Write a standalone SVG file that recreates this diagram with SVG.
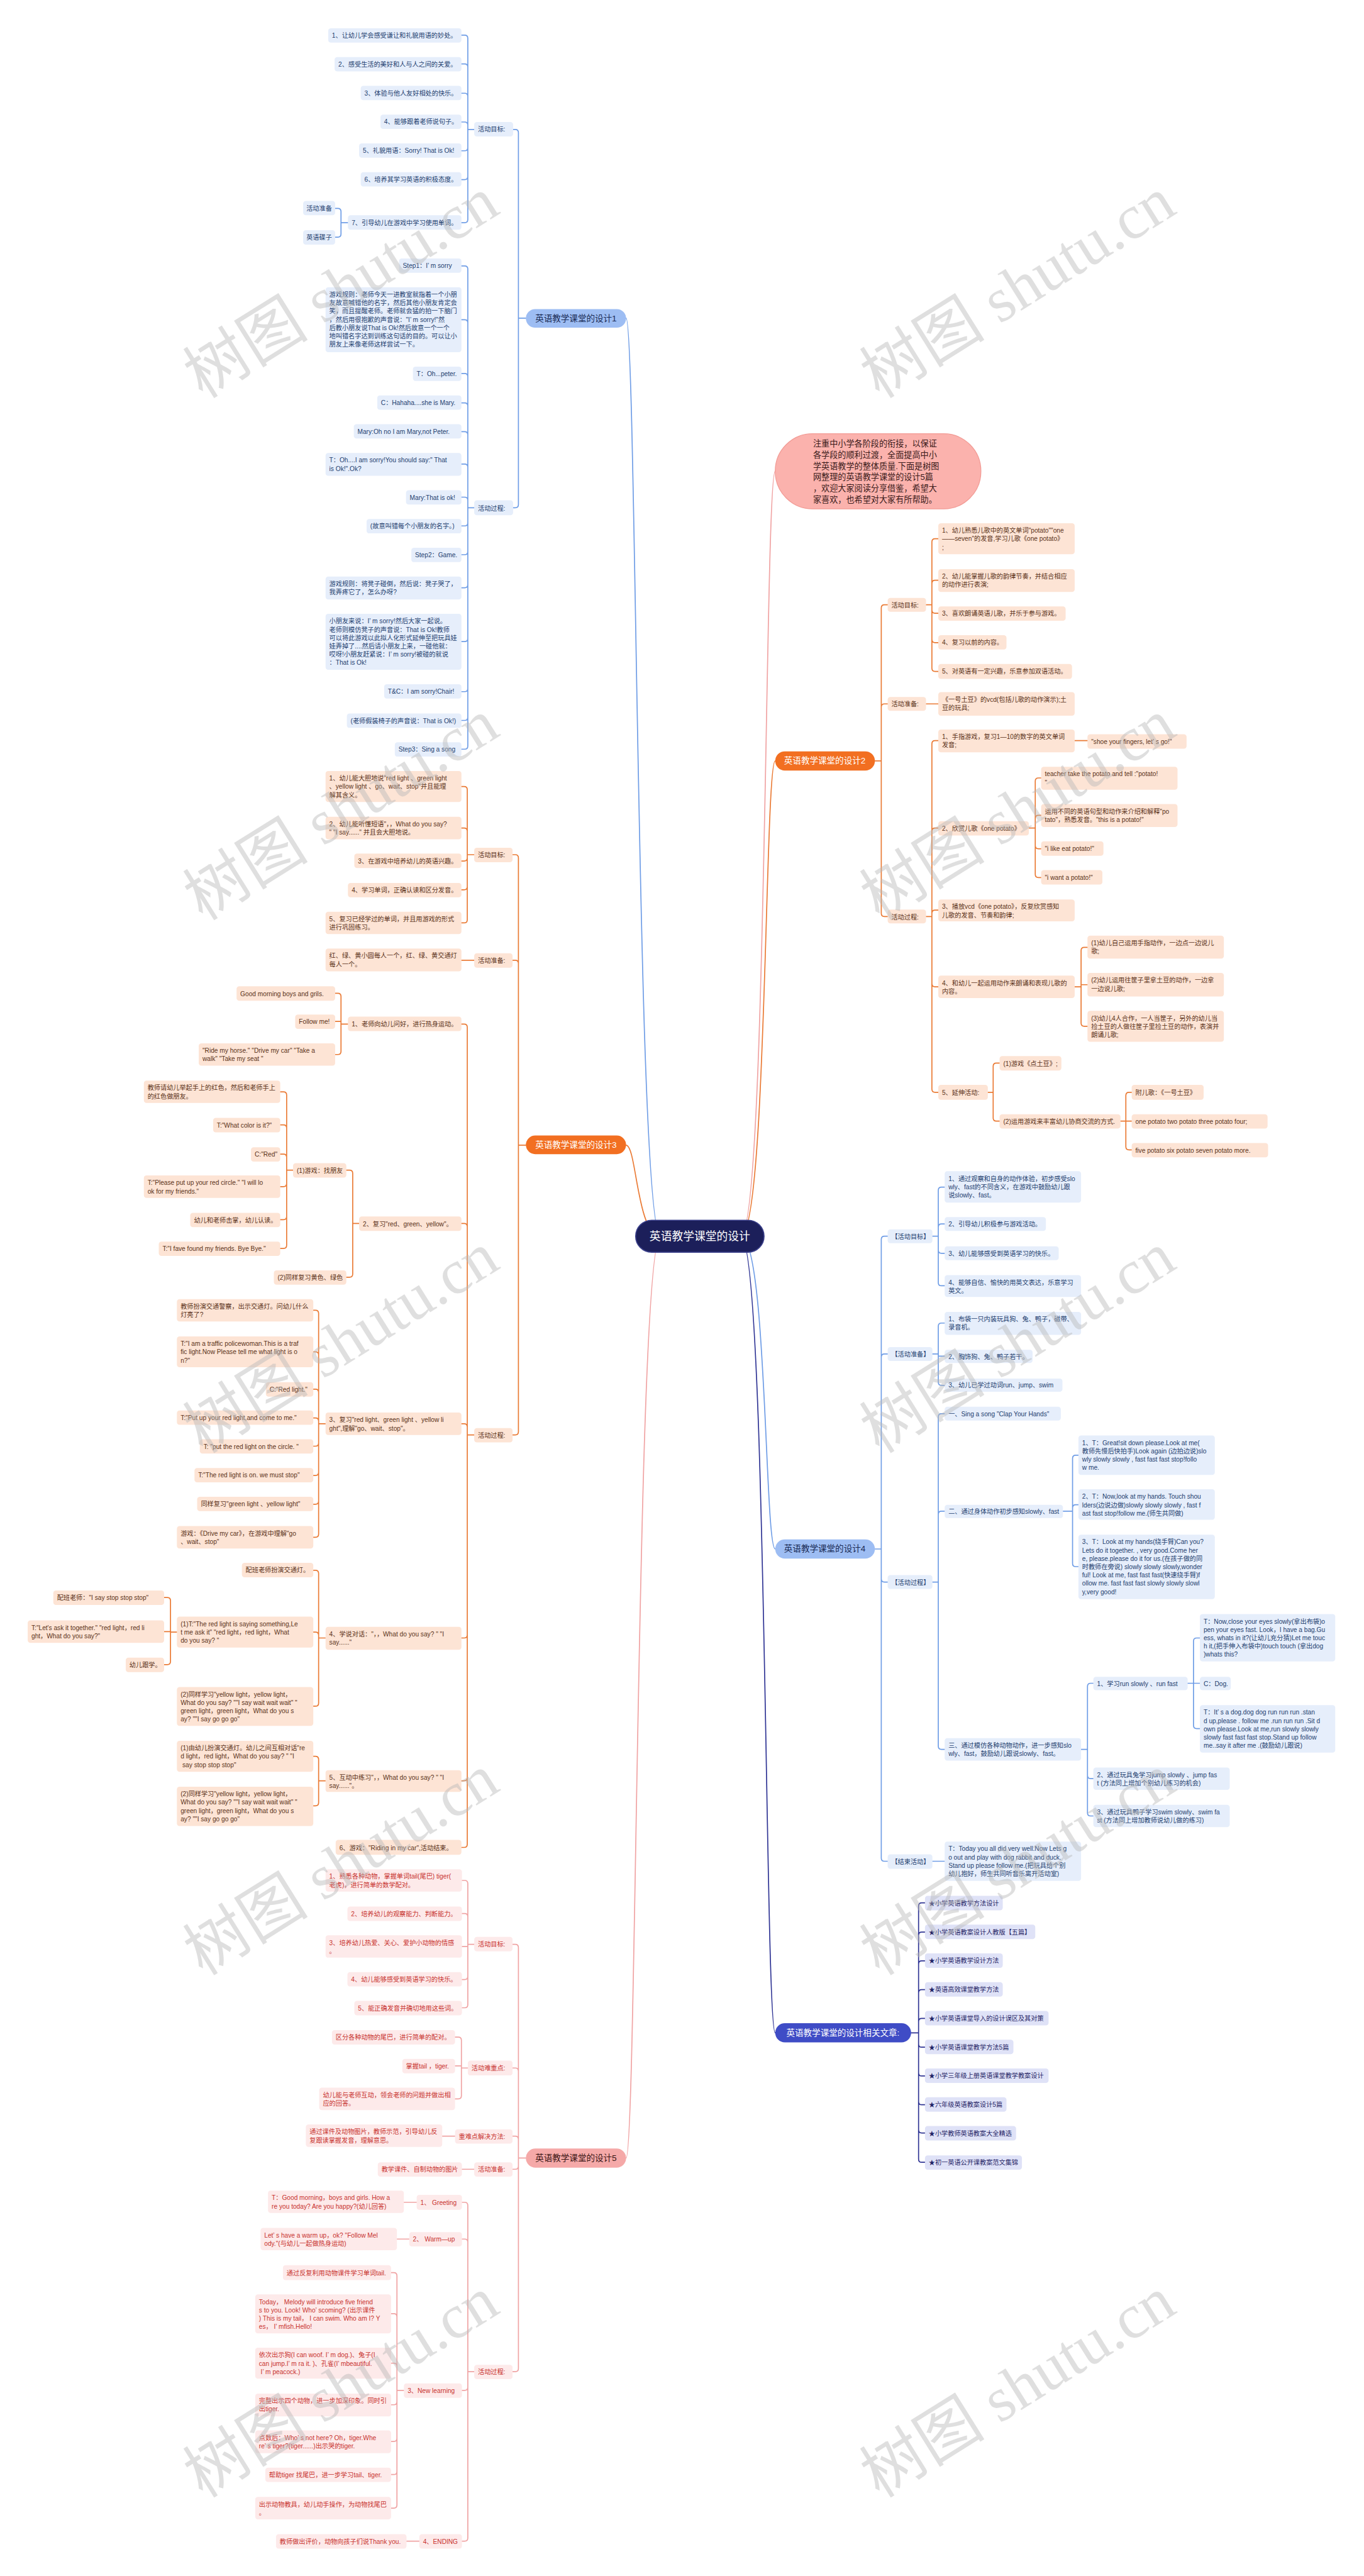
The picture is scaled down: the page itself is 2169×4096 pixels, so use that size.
<svg xmlns="http://www.w3.org/2000/svg" width="2169" height="4096" viewBox="0 0 2169 4096">
<style>
text{font-family:"Liberation Sans","Noto Sans CJK SC",sans-serif;font-size:12px}
.bl rect{fill:#e6eefb}.bl text{fill:#23406f}
.or rect{fill:#fde4d5}.or text{fill:#5b3218}
.pk rect{fill:#fdeaea}.pk text{fill:#c8322e}
.in rect{fill:#dfe2f7}.in text{fill:#1f2466}
.pill text{font-size:16px;text-anchor:middle}
.pb rect{fill:#9dbdf3}.pb text{fill:#1a2b55}
.po rect{fill:#f26f21}.po text{fill:#ffffff}
.pp rect{fill:#f5a9a8}.pp text{fill:#3a1515}
.pi rect{fill:#3f4cc6}.pi text{fill:#ffffff}
.c{fill:none;stroke-width:2;stroke-linecap:round}
.cb{stroke:#6f9de6}.co{stroke:#ea7a34}.cp{stroke:#f0a3a3}.ci{stroke:#2f3494}
.wm{font-family:"Liberation Serif","Noto Sans CJK SC",serif;font-size:118px;fill:#b8b8b8;fill-opacity:.45;text-anchor:middle}
</style>
<rect width="2169" height="4096" fill="#ffffff"/>
<g transform="scale(0.84727)">
<g id="connectors">
<path class="c cb" stroke-width="2.5" d="M1240 2320C1195 2320 1195 597 1175 597"/>
<path class="c co" stroke-width="2.5" d="M1240 2320C1195 2320 1195 2149 1175 2149"/>
<path class="c cp" stroke-width="2.5" d="M1240 2320C1195 2320 1195 4050 1175 4050"/>
<path class="c cp" stroke-width="2.5" d="M1390 2320C1440 2320 1435 884 1455 884"/>
<path class="c co" stroke-width="2.5" d="M1390 2320C1440 2320 1435 1428 1455 1428"/>
<path class="c cb" stroke-width="2.5" d="M1390 2320C1440 2320 1435 2907 1455 2907"/>
<path class="c ci" stroke-width="2.5" d="M1390 2320C1440 2320 1435 3815 1455 3815"/>
<path class="c cb" d="M987 597H973M973 597V249Q973 243 967 243H963M973 597V947Q973 953 967 953H963"/>
<path class="c cb" d="M890 243H878M878 243V72Q878 66 872 66H866M878 243V126Q878 120 872 120H866M878 243V181Q878 175 872 175H866M878 243V235Q878 229 872 229H866M878 243V277Q878 283 872 283H866M878 243V331Q878 337 872 337H866M878 243V412Q878 418 872 418H866"/>
<path class="c cb" d="M653 418H640M640 418V397Q640 391 634 391H629M640 418V439Q640 445 634 445H629"/>
<path class="c cb" d="M890 953H878M878 953V505Q878 499 872 499H866M878 953V606Q878 600 872 600H866M878 953V707Q878 701 872 701H866M878 953V762Q878 756 872 756H866M878 953V816Q878 810 872 810H866M878 953V877Q878 871 872 871H866M878 953V939Q878 933 872 933H866M878 953V981Q878 987 872 987H866M878 953V1035Q878 1041 872 1041H866M878 953V1097Q878 1103 872 1103H866M878 953V1198Q878 1204 872 1204H866M878 953V1292Q878 1298 872 1298H866M878 953V1346Q878 1352 872 1352H866M878 953V1400Q878 1406 872 1406H866"/>
<path class="c co" d="M987 2149H973M973 2149V1610Q973 1604 967 1604H962M973 2149V1808Q973 1802 967 1802H962M973 2149V2687Q973 2693 967 2693H962"/>
<path class="c co" d="M890 1604H877M877 1604V1482Q877 1476 871 1476H866M877 1604V1560Q877 1554 871 1554H866M877 1604V1610Q877 1616 871 1616H866M877 1604V1664Q877 1670 871 1670H866M877 1604V1726Q877 1732 871 1732H866M890 1802H866"/>
<path class="c co" d="M890 2693H877M877 2693V1928Q877 1922 871 1922H866M877 2693V2302Q877 2296 871 2296H866M877 2693V2678Q877 2672 871 2672H866M877 2693V3068Q877 3074 871 3074H866M877 2693V3336Q877 3342 871 3342H866M877 2693V3461Q877 3467 871 3467H866"/>
<path class="c co" d="M653 1922H640M640 1922V1870Q640 1864 634 1864H629M640 1922V1917H629M640 1922V1973Q640 1979 634 1979H629"/>
<path class="c co" d="M674 2296H662M662 2296V2202Q662 2196 656 2196H650M662 2296V2391Q662 2397 656 2397H650"/>
<path class="c co" d="M550 2196H538M538 2196V2055Q538 2049 532 2049H526M538 2196V2117Q538 2111 532 2111H526M538 2196V2172Q538 2166 532 2166H526M538 2196V2221Q538 2227 532 2227H526M538 2196V2283Q538 2289 532 2289H526M538 2196V2337Q538 2343 532 2343H526"/>
<path class="c co" d="M611 2672H598M598 2672V2465Q598 2459 592 2459H588M598 2672V2543Q598 2537 592 2537H588M598 2672V2613Q598 2607 592 2607H588M598 2672V2667Q598 2661 592 2661H588M598 2672V2708Q598 2714 592 2714H588M598 2672V2763Q598 2769 592 2769H588M598 2672V2817Q598 2823 592 2823H588M598 2672V2879Q598 2885 592 2885H588"/>
<path class="c co" d="M611 3074H598M598 3074V2953Q598 2947 592 2947H588M598 3074V3069Q598 3063 592 3063H588M598 3074V3196Q598 3202 592 3202H588"/>
<path class="c co" d="M332 3063H320M320 3063V3004Q320 2998 314 2998H308M320 3063V3062H308M320 3063V3118Q320 3124 314 3124H308"/>
<path class="c co" d="M611 3342H598M598 3342V3302Q598 3296 592 3296H588M598 3342V3383Q598 3389 592 3389H588"/>
<path class="c cp" d="M987 4050H973M973 4050V3655Q973 3649 967 3649H962M973 4050V3887Q973 3881 967 3881H962M973 4050V4015Q973 4009 967 4009H962M973 4050V4065Q973 4071 967 4071H962M973 4050V4445Q973 4451 967 4451H962"/>
<path class="c cp" d="M890 3649H878M878 3649V3535Q878 3529 872 3529H867M878 3649V3597Q878 3591 872 3591H867M878 3649V3653H867M878 3649V3709Q878 3715 872 3715H867M878 3649V3762Q878 3768 872 3768H867"/>
<path class="c cp" d="M878 3881H866M866 3881V3829Q866 3823 860 3823H854M866 3881V3877H854M866 3881V3933Q866 3939 860 3939H854M854 4009H830M890 4071H867"/>
<path class="c cp" d="M890 4451H878M878 4451V4139Q878 4133 872 4133H867M878 4451V4208Q878 4202 872 4202H867M878 4451V4480Q878 4486 872 4486H867M878 4451V4763Q878 4769 872 4769H867M782 4133H758M768 4202H745M787 4769H763"/>
<path class="c cp" d="M758 4486H745M745 4486V4271Q745 4265 739 4265H734M745 4486V4348Q745 4342 739 4342H734M745 4486V4441Q745 4435 739 4435H734M745 4486V4507Q745 4513 739 4513H734M745 4486V4576Q745 4582 739 4582H734M745 4486V4638Q745 4644 739 4644H734M745 4486V4701Q745 4707 739 4707H734"/>
<path class="c co" d="M1642 1428H1654M1654 1428V1141Q1654 1135 1660 1135H1666M1654 1428V1327Q1654 1321 1660 1321H1666M1654 1428V1714Q1654 1720 1660 1720H1666"/>
<path class="c co" d="M1738 1135H1749M1749 1135V1017Q1749 1011 1755 1011H1761M1749 1135V1095Q1749 1089 1755 1089H1761M1749 1135V1145Q1749 1151 1755 1151H1761M1749 1135V1200Q1749 1206 1755 1206H1761M1749 1135V1254Q1749 1260 1755 1260H1761M1738 1321H1761"/>
<path class="c co" d="M1738 1720H1749M1749 1720V1396Q1749 1390 1755 1390H1761M1749 1720V1560Q1749 1554 1755 1554H1761M1749 1720V1714Q1749 1708 1755 1708H1761M1749 1720V1846Q1749 1852 1755 1852H1761M1749 1720V2044Q1749 2050 1755 2050H1761M2017 1390H2041"/>
<path class="c co" d="M1931 1554H1943M1943 1554V1466Q1943 1460 1949 1460H1954M1943 1554V1536Q1943 1530 1949 1530H1954M1943 1554V1587Q1943 1593 1949 1593H1954M1943 1554V1641Q1943 1647 1949 1647H1954"/>
<path class="c co" d="M2017 1852H2029M2029 1852V1784Q2029 1778 2035 1778H2041M2029 1852V1848H2041M2029 1852V1920Q2029 1926 2035 1926H2041"/>
<path class="c co" d="M1854 2050H1864M1864 2050V2001Q1864 1995 1870 1995H1876M1864 2050V2098Q1864 2104 1870 2104H1876M2103 2104H2113M2113 2104V2056Q2113 2050 2119 2050H2124M2113 2104H2124M2113 2104V2152Q2113 2158 2119 2158H2124"/>
<path class="c cb" d="M1642 2907H1654M1654 2907V2326Q1654 2320 1660 2320H1666M1654 2907V2547Q1654 2541 1660 2541H1666M1654 2907V2963Q1654 2969 1660 2969H1666M1654 2907V3487Q1654 3493 1660 3493H1666"/>
<path class="c cb" d="M1750 2320H1761M1761 2320V2234Q1761 2228 1767 2228H1773M1761 2320V2303Q1761 2297 1767 2297H1773M1761 2320V2346Q1761 2352 1767 2352H1773M1761 2320V2407Q1761 2413 1767 2413H1773"/>
<path class="c cb" d="M1750 2541H1761M1761 2541V2489Q1761 2483 1767 2483H1773M1761 2541V2545H1773M1761 2541V2594Q1761 2600 1767 2600H1773"/>
<path class="c cb" d="M1750 2969H1761M1761 2969V2659Q1761 2653 1767 2653H1773M1761 2969V2842Q1761 2836 1767 2836H1773M1761 2969V3277Q1761 3283 1767 3283H1773M1750 3493H1773"/>
<path class="c cb" d="M1995 2836H2013M2013 2836V2737Q2013 2731 2019 2731H2024M2013 2836V2830Q2013 2824 2019 2824H2024M2013 2836V2934Q2013 2940 2019 2940H2024"/>
<path class="c cb" d="M2029 3283H2041M2041 3283V3165Q2041 3159 2047 3159H2052M2041 3283V3332Q2041 3338 2047 3338H2052M2041 3283V3402Q2041 3408 2047 3408H2052"/>
<path class="c cb" d="M2229 3159H2240M2240 3159V3080Q2240 3074 2246 3074H2252M2240 3159H2252M2240 3159V3238Q2240 3244 2246 3244H2252"/>
<path class="c ci" d="M1710 3815H1724M1724 3815V3577Q1724 3571 1730 3571H1736M1724 3815V3632Q1724 3626 1730 3626H1736M1724 3815V3686Q1724 3680 1730 3680H1736M1724 3815V3740Q1724 3734 1730 3734H1736M1724 3815V3794Q1724 3788 1730 3788H1736M1724 3815V3836Q1724 3842 1730 3842H1736M1724 3815V3890Q1724 3896 1730 3896H1736M1724 3815V3944Q1724 3950 1730 3950H1736M1724 3815V3997Q1724 4003 1730 4003H1736M1724 3815V4052Q1724 4058 1730 4058H1736"/>
</g>

<g id="center"><rect x="1193" y="2290" width="241" height="60" rx="30" fill="#1c1f5a" stroke="#3a3f8a" stroke-width="2"/><text x="1313.5" y="2327" font-size="21" fill="#ffffff" text-anchor="middle" style="font-size:21px">英语教学课堂的设计</text></g>

<g id="intro"><rect x="1455" y="814" width="386" height="141" rx="70" fill="#fbb2ad" stroke="#f29b95" stroke-width="1.5"/><text x="1526" y="838" style="font-size:15.5px;fill:#3a1a1a">注重中小学各阶段的衔接，以保证<tspan x="1526" dy="21">各学段的顺利过渡，全面提高中小</tspan><tspan x="1526" dy="21">学英语教学的整体质量.下面是树图</tspan><tspan x="1526" dy="21">网整理的英语教学课堂的设计5篇</tspan><tspan x="1526" dy="21">，欢迎大家阅读分享借鉴，希望大</tspan><tspan x="1526" dy="21">家喜欢，也希望对大家有所帮助。</tspan></text></g>

<!-- Branch 1 -->
<g id="n1" class="pill pb"><rect x="987" y="580" width="188" height="35" rx="17.5"/><text x="1081" y="603">英语教学课堂的设计1</text></g>
<g id="b1-mb" class="bl"><rect x="890" y="229" width="73" height="27" rx="5"/><text x="897" y="247">活动目标:</text></g>
<g id="b1-g1" class="bl"><rect x="616" y="53" width="250" height="27" rx="5"/><text x="623" y="71">1、让幼儿学会感受谦让和礼貌用语的妙处。</text></g>
<g id="b1-g2" class="bl"><rect x="628" y="107" width="238" height="27" rx="5"/><text x="635" y="125">2、感受生活的美好和人与人之间的关爱。</text></g>
<g id="b1-g3" class="bl"><rect x="677" y="161" width="189" height="27" rx="5"/><text x="684" y="179">3、体验与他人友好相处的快乐。</text></g>
<g id="b1-g4" class="bl"><rect x="714" y="215" width="152" height="27" rx="5"/><text x="721" y="233">4、能够跟着老师说句子。</text></g>
<g id="b1-g5" class="bl"><rect x="674" y="269" width="192" height="27" rx="5"/><text x="681" y="287">5、礼貌用语：Sorry! That is Ok!</text></g>
<g id="b1-g6" class="bl"><rect x="677" y="323" width="189" height="27" rx="5"/><text x="684" y="341">6、培养其学习英语的积极态度。</text></g>
<g id="b1-g7" class="bl"><rect x="653" y="404" width="213" height="27" rx="5"/><text x="660" y="422">7、引导幼儿在游戏中学习使用单词。</text></g>
<g id="b1-p1" class="bl"><rect x="569" y="377" width="60" height="27" rx="5"/><text x="575" y="395">活动准备</text></g>
<g id="b1-p2" class="bl"><rect x="569" y="432" width="60" height="27" rx="5"/><text x="575" y="450">英语碟子</text></g>
<g id="b1-mc" class="bl"><rect x="890" y="939" width="73" height="28" rx="5"/><text x="897" y="958">活动过程:</text></g>
<g id="b1-s1" class="bl"><rect x="749" y="485" width="117" height="27" rx="5"/><text x="756" y="503">Step1：I’  m sorry</text></g>
<g id="b1-s2" class="bl"><rect x="611" y="539" width="255" height="122" rx="5"/><text x="618" y="557">游戏规则：老师今天一进教室就指着一个小朋<tspan x="618" dy="15.6">友故意喊错他的名字，然后其他小朋友肯定会</tspan><tspan x="618" dy="15.6">笑，而且提醒老师。老师就会猛的拍一下脑门</tspan><tspan x="618" dy="15.6">，然后用很抱歉的声音说："I’  m sorry!"然</tspan><tspan x="618" dy="15.6">后教小朋友说That is Ok!然后故意一个一个</tspan><tspan x="618" dy="15.6">地叫错名字达到训练这句话的目的。可以让小</tspan><tspan x="618" dy="15.6">朋友上来像老师这样尝试一下。</tspan></text></g>
<g id="b1-s3" class="bl"><rect x="775" y="688" width="91" height="27" rx="5"/><text x="782" y="706">T：Oh...peter.</text></g>
<g id="b1-s4" class="bl"><rect x="708" y="742" width="158" height="27" rx="5"/><text x="715" y="760">C：Hahaha....she is Mary.</text></g>
<g id="b1-s5" class="bl"><rect x="664" y="796" width="202" height="27" rx="5"/><text x="671" y="814">Mary:Oh no I am Mary,not Peter.</text></g>
<g id="b1-s6" class="bl"><rect x="611" y="850" width="255" height="43" rx="5"/><text x="618" y="868">T：Oh....I am sorry!You should say:" That<tspan x="618" dy="15.6">is Ok!".Ok?</tspan></text></g>
<g id="b1-s7" class="bl"><rect x="762" y="920" width="104" height="27" rx="5"/><text x="769" y="938">Mary:That is ok!</text></g>
<g id="b1-s8" class="bl"><rect x="688" y="974" width="178" height="27" rx="5"/><text x="695" y="992">(故意叫错每个小朋友的名字。)</text></g>
<g id="b1-s9" class="bl"><rect x="772" y="1028" width="94" height="27" rx="5"/><text x="779" y="1046">Step2：Game.</text></g>
<g id="b1-s10" class="bl"><rect x="611" y="1082" width="255" height="43" rx="5"/><text x="618" y="1100">游戏规则：将凳子碰倒，然后说：凳子哭了，<tspan x="618" dy="15.6">我弄疼它了，怎么办呀?</tspan></text></g>
<g id="b1-s11" class="bl"><rect x="611" y="1152" width="255" height="105" rx="5"/><text x="618" y="1170">小朋友来说：I’  m sorry!然后大家一起说。<tspan x="618" dy="15.6">老师则模仿凳子的声音说：That is Ok!教师</tspan><tspan x="618" dy="15.6">可以将此游戏以此拟人化形式延伸至把玩具娃</tspan><tspan x="618" dy="15.6">娃弄掉了....然后请小朋友上来，一碰他就：</tspan><tspan x="618" dy="15.6">哎呀!小朋友赶紧说：I’  m sorry!被碰的就说</tspan><tspan x="618" dy="15.6">：That is Ok!</tspan></text></g>
<g id="b1-s12" class="bl"><rect x="721" y="1284" width="145" height="27" rx="5"/><text x="728" y="1302">T&amp;C：I am sorry!Chair!</text></g>
<g id="b1-s13" class="bl"><rect x="651" y="1339" width="215" height="27" rx="5"/><text x="658" y="1357">(老师假装椅子的声音说：That is Ok!)</text></g>
<g id="b1-s14" class="bl"><rect x="741" y="1393" width="125" height="27" rx="5"/><text x="748" y="1411">Step3：Sing a song</text></g>

<!-- Branch 3 -->
<g id="n3" class="pill po"><rect x="987" y="2131" width="188" height="35" rx="17.5"/><text x="1081" y="2154">英语教学课堂的设计3</text></g>
<g id="o3-mb" class="or"><rect x="890" y="1591" width="72" height="27" rx="5"/><text x="897" y="1609">活动目标:</text></g>
<g id="o3-g1" class="or"><rect x="611" y="1447" width="255" height="58" rx="5"/><text x="618" y="1465">1、幼儿能大胆地说"red light 、green light<tspan x="618" dy="15.6">、yellow light 、go、wait、stop"并且能理</tspan><tspan x="618" dy="15.6">解其含义。</tspan></text></g>
<g id="o3-g2" class="or"><rect x="611" y="1533" width="255" height="42" rx="5"/><text x="618" y="1551">2、幼儿能听懂短语"，，What do you say?<tspan x="618" dy="15.6">" "I say......" 并且会大胆地说。</tspan></text></g>
<g id="o3-g3" class="or"><rect x="665" y="1602" width="201" height="27" rx="5"/><text x="672" y="1620">3、在游戏中培养幼儿的英语兴趣。</text></g>
<g id="o3-g4" class="or"><rect x="653" y="1657" width="213" height="27" rx="5"/><text x="660" y="1675">4、学习单词，正确认读和区分发音。</text></g>
<g id="o3-g5" class="or"><rect x="611" y="1711" width="255" height="42" rx="5"/><text x="618" y="1729">5、复习已经学过的单词，并且用游戏的形式<tspan x="618" dy="15.6">进行巩固练习。</tspan></text></g>
<g id="o3-mp" class="or"><rect x="890" y="1789" width="72" height="27" rx="5"/><text x="897" y="1807">活动准备:</text></g>
<g id="o3-p1" class="or"><rect x="611" y="1780" width="255" height="43" rx="5"/><text x="618" y="1798">红、绿、黄小圆每人一个，红、绿、黄交通灯<tspan x="618" dy="15.6">每人一个。</tspan></text></g>
<g id="o3-mc" class="or"><rect x="890" y="2680" width="72" height="27" rx="5"/><text x="897" y="2698">活动过程:</text></g>
<g id="o3-a1" class="or"><rect x="653" y="1908" width="213" height="27" rx="5"/><text x="660" y="1926">1、老师向幼儿问好，进行热身运动。</text></g>
<g id="o3-a1a" class="or"><rect x="444" y="1851" width="185" height="27" rx="5"/><text x="451" y="1869">Good morning boys and grils.</text></g>
<g id="o3-a1b" class="or"><rect x="554" y="1904" width="75" height="27" rx="5"/><text x="561" y="1922">Follow me!</text></g>
<g id="o3-a1c" class="or"><rect x="373" y="1958" width="256" height="42" rx="5"/><text x="380" y="1976">"Ride my horse." "Drive my car" "Take a<tspan x="380" dy="15.6">walk" "Take my seat "</tspan></text></g>
<g id="o3-a2" class="or"><rect x="674" y="2283" width="192" height="27" rx="5"/><text x="681" y="2301">2、复习"red、green、yellow"。</text></g>
<g id="o3-a2a" class="or"><rect x="550" y="2183" width="100" height="27" rx="5"/><text x="557" y="2201">(1)游戏：找朋友</text></g>
<g id="o3-a2a1" class="or"><rect x="270" y="2028" width="256" height="42" rx="5"/><text x="277" y="2046">教师请幼儿举起手上的红色，然后和老师手上<tspan x="277" dy="15.6">的红色做朋友。</tspan></text></g>
<g id="o3-a2a2" class="or"><rect x="400" y="2098" width="126" height="27" rx="5"/><text x="407" y="2116">T:"What color is it?"</text></g>
<g id="o3-a2a3" class="or"><rect x="471" y="2153" width="55" height="27" rx="5"/><text x="478" y="2171">C:"Red"</text></g>
<g id="o3-a2a4" class="or"><rect x="270" y="2206" width="256" height="42" rx="5"/><text x="277" y="2224">T:"Please put up your red circle." "I will lo<tspan x="277" dy="15.6">ok for my friends."</tspan></text></g>
<g id="o3-a2a5" class="or"><rect x="357" y="2276" width="169" height="27" rx="5"/><text x="364" y="2294">幼儿和老师击掌，幼儿认读。</text></g>
<g id="o3-a2a6" class="or"><rect x="298" y="2330" width="228" height="27" rx="5"/><text x="305" y="2348">T:"I fave found my friends. Bye Bye."</text></g>
<g id="o3-a2b" class="or"><rect x="514" y="2384" width="136" height="27" rx="5"/><text x="521" y="2402">(2)同样复习黄色、绿色</text></g>
<g id="o3-a3" class="or"><rect x="611" y="2651" width="255" height="42" rx="5"/><text x="618" y="2669">3、复习"red light、green light 、yellow li<tspan x="618" dy="15.6">ght",理解"go、wait、stop"。</tspan></text></g>
<g id="o3-a3a" class="or"><rect x="332" y="2438" width="256" height="42" rx="5"/><text x="339" y="2456">教师扮演交通警察，出示交通灯。问幼儿什么<tspan x="339" dy="15.6">灯亮了?</tspan></text></g>
<g id="o3-a3b" class="or"><rect x="332" y="2508" width="256" height="58" rx="5"/><text x="339" y="2526">T:"I am a traffic policewoman.This is a traf<tspan x="339" dy="15.6">fic light.Now Please tell me what light is o</tspan><tspan x="339" dy="15.6">n?"</tspan></text></g>
<g id="o3-a3c" class="or"><rect x="499" y="2594" width="89" height="27" rx="5"/><text x="506" y="2612">C:"Red light."</text></g>
<g id="o3-a3d" class="or"><rect x="332" y="2647" width="256" height="27" rx="5"/><text x="339" y="2665">T:"Put up your red light,and come to me."</text></g>
<g id="o3-a3e" class="or"><rect x="375" y="2701" width="213" height="27" rx="5"/><text x="382" y="2719">T: "put the red light on the circle. "</text></g>
<g id="o3-a3f" class="or"><rect x="365" y="2755" width="223" height="27" rx="5"/><text x="372" y="2773">T:"The red light is on. we must stop"</text></g>
<g id="o3-a3g" class="or"><rect x="370" y="2809" width="218" height="27" rx="5"/><text x="377" y="2827">同样复习"green light 、yellow light"</text></g>
<g id="o3-a3h" class="or"><rect x="332" y="2864" width="256" height="42" rx="5"/><text x="339" y="2882">游戏：《Drive my car》，在游戏中理解"go<tspan x="339" dy="15.6">、wait、stop"</tspan></text></g>
<g id="o3-a4" class="or"><rect x="611" y="3053" width="255" height="43" rx="5"/><text x="618" y="3071">4、学说对话："，，What do you say? " "I<tspan x="618" dy="15.6">say......"</tspan></text></g>
<g id="o3-a4a" class="or"><rect x="454" y="2933" width="134" height="27" rx="5"/><text x="461" y="2951">配班老师扮演交通灯。</text></g>
<g id="o3-a4b" class="or"><rect x="332" y="3034" width="256" height="58" rx="5"/><text x="339" y="3052">(1)T:"The red light is saying something,Le<tspan x="339" dy="15.6">t me ask it" "red light，red light，What</tspan><tspan x="339" dy="15.6">do you say? "</tspan></text></g>
<g id="o3-a4b1" class="or"><rect x="100" y="2985" width="208" height="27" rx="5"/><text x="107" y="3003">配班老师："I say stop stop stop"</text></g>
<g id="o3-a4b2" class="or"><rect x="52" y="3041" width="256" height="42" rx="5"/><text x="59" y="3059">T:"Let's ask it together." "red light，red li<tspan x="59" dy="15.6">ght，What do you say?"</tspan></text></g>
<g id="o3-a4b3" class="or"><rect x="236" y="3111" width="72" height="27" rx="5"/><text x="243" y="3129">幼儿跟学。</text></g>
<g id="o3-a4c" class="or"><rect x="332" y="3166" width="256" height="73" rx="5"/><text x="339" y="3184">(2)同样学习"yellow light，yellow light，<tspan x="339" dy="15.6">What do you say? ""I say wait wait wait" "</tspan><tspan x="339" dy="15.6">green light，green light，What do you s</tspan><tspan x="339" dy="15.6">ay? ""I say go go go"</tspan></text></g>
<g id="o3-a5" class="or"><rect x="611" y="3322" width="255" height="41" rx="5"/><text x="618" y="3340">5、互动中练习"，，What do you say? " "I<tspan x="618" dy="15.6">say......"。</tspan></text></g>
<g id="o3-a5a" class="or"><rect x="332" y="3267" width="256" height="58" rx="5"/><text x="339" y="3285">(1)由幼儿扮演交通灯。幼儿之间互相对话"re<tspan x="339" dy="15.6">d light，red light，What do you say? " "I</tspan><tspan x="339" dy="15.6"> say stop stop stop"</tspan></text></g>
<g id="o3-a5b" class="or"><rect x="332" y="3353" width="256" height="74" rx="5"/><text x="339" y="3371">(2)同样学习"yellow light，yellow light，<tspan x="339" dy="15.6">What do you say? ""I say wait wait wait" "</tspan><tspan x="339" dy="15.6">green light，green light，What do you s</tspan><tspan x="339" dy="15.6">ay? ""I say go go go"</tspan></text></g>
<g id="o3-a6" class="or"><rect x="630" y="3453" width="236" height="28" rx="5"/><text x="637" y="3472">6、游戏："Riding in my car",活动结束。</text></g>

<!-- Branch 5 -->
<g id="n5" class="pill pp"><rect x="987" y="4032" width="188" height="36" rx="18"/><text x="1081" y="4055">英语教学课堂的设计5</text></g>
<g id="p5-mb" class="pk"><rect x="890" y="3635" width="72" height="27" rx="5"/><text x="897" y="3653">活动目标:</text></g>
<g id="p5-g1" class="pk"><rect x="611" y="3508" width="256" height="42" rx="5"/><text x="618" y="3526">1、熟悉各种动物，掌握单词tail(尾巴) tiger(<tspan x="618" dy="15.6">老虎)，进行简单的数学配对。</tspan></text></g>
<g id="p5-g2" class="pk"><rect x="652" y="3578" width="215" height="27" rx="5"/><text x="659" y="3596">2、培养幼儿的观察能力、判断能力。</text></g>
<g id="p5-g3" class="pk"><rect x="611" y="3632" width="256" height="42" rx="5"/><text x="618" y="3650">3、培养幼儿热爱、关心、爱护小动物的情感<tspan x="618" dy="15.6">。</tspan></text></g>
<g id="p5-g4" class="pk"><rect x="652" y="3701" width="215" height="27" rx="5"/><text x="659" y="3719">4、幼儿能够感受到英语学习的快乐。</text></g>
<g id="p5-g5" class="pk"><rect x="665" y="3755" width="202" height="27" rx="5"/><text x="672" y="3773">5、能正确发音并确切地用这些词。</text></g>
<g id="p5-md" class="pk"><rect x="878" y="3867" width="84" height="28" rx="5"/><text x="885" y="3886">活动难重点:</text></g>
<g id="p5-d1" class="pk"><rect x="623" y="3810" width="231" height="27" rx="5"/><text x="630" y="3828">区分各种动物的尾巴，进行简单的配对。</text></g>
<g id="p5-d2" class="pk"><rect x="755" y="3864" width="99" height="27" rx="5"/><text x="762" y="3882">掌握tail ，tiger.</text></g>
<g id="p5-d3" class="pk"><rect x="599" y="3918" width="255" height="42" rx="5"/><text x="606" y="3936">幼儿能与老师互动，领会老师的问题并做出相<tspan x="606" dy="15.6">应的回答。</tspan></text></g>
<g id="p5-ms" class="pk"><rect x="854" y="3996" width="108" height="27" rx="5"/><text x="861" y="4014">重难点解决方法:</text></g>
<g id="p5-s1" class="pk"><rect x="574" y="3987" width="256" height="42" rx="5"/><text x="581" y="4005">通过课件及动物图片，教师示范，引导幼儿反<tspan x="581" dy="15.6">复跟读掌握发音，理解意思。</tspan></text></g>
<g id="p5-mp" class="pk"><rect x="890" y="4058" width="72" height="27" rx="5"/><text x="897" y="4076">活动准备:</text></g>
<g id="p5-p1" class="pk"><rect x="709" y="4058" width="158" height="27" rx="5"/><text x="716" y="4076">教学课件、自制动物的图片</text></g>
<g id="p5-mc" class="pk"><rect x="890" y="4438" width="72" height="27" rx="5"/><text x="897" y="4456">活动过程:</text></g>
<g id="p5-a1" class="pk"><rect x="782" y="4119" width="85" height="28" rx="5"/><text x="789" y="4138">1、 Greeting</text></g>
<g id="p5-a1a" class="pk"><rect x="503" y="4111" width="255" height="42" rx="5"/><text x="510" y="4129">T：Good morning，boys and girls. How a<tspan x="510" dy="15.6">re you today? Are you happy?(幼儿回答)</tspan></text></g>
<g id="p5-a2" class="pk"><rect x="768" y="4189" width="99" height="27" rx="5"/><text x="775" y="4207">2、 Warm—up</text></g>
<g id="p5-a2a" class="pk"><rect x="489" y="4181" width="256" height="42" rx="5"/><text x="496" y="4199">Let’  s have a warm up，ok? "Follow Mel<tspan x="496" dy="15.6">ody."(与幼儿一起做热身运动)</tspan></text></g>
<g id="p5-a3" class="pk"><rect x="758" y="4473" width="109" height="27" rx="5"/><text x="765" y="4491">3、New learning</text></g>
<g id="p5-a3a" class="pk"><rect x="531" y="4251" width="203" height="28" rx="5"/><text x="538" y="4270">通过反复利用动物课件学习单词tail.</text></g>
<g id="p5-a3b" class="pk"><rect x="479" y="4306" width="255" height="73" rx="5"/><text x="486" y="4324">Today，  Melody will introduce five friend<tspan x="486" dy="15.6">s to you. Look! Who’  scoming? (出示课件</tspan><tspan x="486" dy="15.6">) This is my tail，  I can swim. Who am I? Y</tspan><tspan x="486" dy="15.6">es，  I’  mfish.Hello!</tspan></text></g>
<g id="p5-a3c" class="pk"><rect x="479" y="4406" width="255" height="58" rx="5"/><text x="486" y="4424">依次出示狗(I can woof. I’  m dog.)、兔子(I<tspan x="486" dy="15.6">can jump.I’  m ra it. )、孔雀(I’  mbeautiful.</tspan><tspan x="486" dy="15.6"> I’  m peacock.)</tspan></text></g>
<g id="p5-a3d" class="pk"><rect x="479" y="4492" width="255" height="43" rx="5"/><text x="486" y="4510">完整出示四个动物，进一步加深印象。同时引<tspan x="486" dy="15.6">出tiger.</tspan></text></g>
<g id="p5-a3e" class="pk"><rect x="479" y="4561" width="255" height="43" rx="5"/><text x="486" y="4579">点数后：Who’  s not here? Oh，tiger.Whe<tspan x="486" dy="15.6">re’  s tiger?(tiger......)出示哭的tiger.</tspan></text></g>
<g id="p5-a3f" class="pk"><rect x="498" y="4631" width="236" height="27" rx="5"/><text x="505" y="4649">帮助tiger 找尾巴，进一步学习tail、tiger.</text></g>
<g id="p5-a3g" class="pk"><rect x="479" y="4686" width="255" height="42" rx="5"/><text x="486" y="4704">出示动物教具，幼儿动手操作，为动物找尾巴<tspan x="486" dy="15.6">。</tspan></text></g>
<g id="p5-a4" class="pk"><rect x="787" y="4756" width="80" height="27" rx="5"/><text x="794" y="4774">4、ENDING</text></g>
<g id="p5-a4a" class="pk"><rect x="518" y="4756" width="245" height="27" rx="5"/><text x="525" y="4774">教师做出评价，动物向孩子们说Thank you.</text></g>

<!-- Branch 2 -->
<g id="n2" class="pill po"><rect x="1455" y="1410" width="187" height="36" rx="18"/><text x="1548" y="1433">英语教学课堂的设计2</text></g>
<g id="o2-mb" class="or"><rect x="1666" y="1122" width="72" height="26" rx="5"/><text x="1673" y="1140">活动目标:</text></g>
<g id="o2-g1" class="or"><rect x="1761" y="982" width="256" height="58" rx="5"/><text x="1768" y="1000">1、幼儿熟悉儿歌中的英文单词"potato""one<tspan x="1768" dy="15.6">——seven"的发音,学习儿歌《one potato》</tspan><tspan x="1768" dy="15.6">;</tspan></text></g>
<g id="o2-g2" class="or"><rect x="1761" y="1068" width="256" height="43" rx="5"/><text x="1768" y="1086">2、幼儿能掌握儿歌的韵律节奏，并结合相应<tspan x="1768" dy="15.6">的动作进行表演;</tspan></text></g>
<g id="o2-g3" class="or"><rect x="1761" y="1138" width="239" height="27" rx="5"/><text x="1768" y="1156">3、喜欢朗诵英语儿歌，并乐于参与游戏。</text></g>
<g id="o2-g4" class="or"><rect x="1761" y="1192" width="128" height="27" rx="5"/><text x="1768" y="1210">4、复习以前的内容。</text></g>
<g id="o2-g5" class="or"><rect x="1761" y="1246" width="251" height="28" rx="5"/><text x="1768" y="1264">5、对英语有一定兴趣，乐意参加双语活动。</text></g>
<g id="o2-mp" class="or"><rect x="1666" y="1308" width="72" height="26" rx="5"/><text x="1673" y="1326">活动准备:</text></g>
<g id="o2-p1" class="or"><rect x="1761" y="1299" width="256" height="44" rx="5"/><text x="1768" y="1317">《一号土豆》的vcd(包括儿歌的动作演示);土<tspan x="1768" dy="15.6">豆的玩具;</tspan></text></g>
<g id="o2-mc" class="or"><rect x="1666" y="1707" width="72" height="26" rx="5"/><text x="1673" y="1725">活动过程:</text></g>
<g id="o2-a1" class="or"><rect x="1761" y="1369" width="256" height="43" rx="5"/><text x="1768" y="1387">1、手指游戏，复习1—10的数字的英文单词<tspan x="1768" dy="15.6">发音;</tspan></text></g>
<g id="o2-a1a" class="or"><rect x="2041" y="1378" width="186" height="27" rx="5"/><text x="2048" y="1396">"shoe your fingers, let’  s go!"</text></g>
<g id="o2-a2" class="or"><rect x="1761" y="1541" width="170" height="27" rx="5"/><text x="1768" y="1559">2、欣赏儿歌《one potato》</text></g>
<g id="o2-a2a" class="or"><rect x="1954" y="1439" width="256" height="43" rx="5"/><text x="1961" y="1457">teacher take the potato and tell :"potato!<tspan x="1961" dy="15.6">"</tspan></text></g>
<g id="o2-a2b" class="or"><rect x="1954" y="1509" width="256" height="43" rx="5"/><text x="1961" y="1527">运用不同的英语句型和动作来介绍和解释"po<tspan x="1961" dy="15.6">tato"，熟悉发音。"this is a potato!"</tspan></text></g>
<g id="o2-a2c" class="or"><rect x="1954" y="1579" width="117" height="27" rx="5"/><text x="1961" y="1597">"i like eat potato!"</text></g>
<g id="o2-a2d" class="or"><rect x="1954" y="1633" width="115" height="27" rx="5"/><text x="1961" y="1651">"i want a potato!"</text></g>
<g id="o2-a3" class="or"><rect x="1761" y="1688" width="256" height="41" rx="5"/><text x="1768" y="1706">3、播放vcd《one potato》，反复欣赏感知<tspan x="1768" dy="15.6">儿歌的发音、节奏和韵律;</tspan></text></g>
<g id="o2-a4" class="or"><rect x="1761" y="1831" width="256" height="42" rx="5"/><text x="1768" y="1849">4、和幼儿一起运用动作来朗诵和表现儿歌的<tspan x="1768" dy="15.6">内容。</tspan></text></g>
<g id="o2-a4a" class="or"><rect x="2041" y="1756" width="256" height="43" rx="5"/><text x="2048" y="1774">(1)幼儿自己运用手指动作，一边点一边说儿<tspan x="2048" dy="15.6">歌;</tspan></text></g>
<g id="o2-a4b" class="or"><rect x="2041" y="1826" width="256" height="44" rx="5"/><text x="2048" y="1844">(2)幼儿运用往筐子里拿土豆的动作，一边拿<tspan x="2048" dy="15.6">一边说儿歌;</tspan></text></g>
<g id="o2-a4c" class="or"><rect x="2041" y="1897" width="256" height="58" rx="5"/><text x="2048" y="1915">(3)幼儿4人合作，一人当筐子，另外的幼儿当<tspan x="2048" dy="15.6">捡土豆的人做往筐子里捡土豆的动作，表演并</tspan><tspan x="2048" dy="15.6">朗诵儿歌;</tspan></text></g>
<g id="o2-a5" class="or"><rect x="1761" y="2036" width="93" height="28" rx="5"/><text x="1768" y="2055">5、延伸活动:</text></g>
<g id="o2-a5a" class="or"><rect x="1876" y="1982" width="116" height="27" rx="5"/><text x="1883" y="2000">(1)游戏《点土豆》;</text></g>
<g id="o2-a5b" class="or"><rect x="1876" y="2091" width="227" height="27" rx="5"/><text x="1883" y="2109">(2)运用游戏来丰富幼儿协商交流的方式.</text></g>
<g id="o2-a5b1" class="or"><rect x="2124" y="2036" width="135" height="28" rx="5"/><text x="2131" y="2055">附儿歌：《一号土豆》</text></g>
<g id="o2-a5b2" class="or"><rect x="2124" y="2091" width="255" height="27" rx="5"/><text x="2131" y="2109">one potato two potato three potato four;</text></g>
<g id="o2-a5b3" class="or"><rect x="2124" y="2145" width="256" height="27" rx="5"/><text x="2131" y="2163">five potato six potato seven potato more.</text></g>

<!-- Branch 4 -->
<g id="n4" class="pill pb"><rect x="1455" y="2889" width="187" height="36" rx="18"/><text x="1548" y="2912">英语教学课堂的设计4</text></g>
<g id="b4-mb" class="bl"><rect x="1666" y="2307" width="84" height="26" rx="5"/><text x="1673" y="2325">【活动目标】</text></g>
<g id="b4-g1" class="bl"><rect x="1773" y="2198" width="256" height="59" rx="5"/><text x="1780" y="2216">1、通过观察和自身的动作体验，初步感受slo<tspan x="1780" dy="15.6">wly、fast的不同含义，在游戏中鼓励幼儿跟</tspan><tspan x="1780" dy="15.6">说slowly、fast。</tspan></text></g>
<g id="b4-g2" class="bl"><rect x="1773" y="2284" width="190" height="26" rx="5"/><text x="1780" y="2302">2、引导幼儿积极参与游戏活动。</text></g>
<g id="b4-g3" class="bl"><rect x="1773" y="2339" width="214" height="26" rx="5"/><text x="1780" y="2357">3、幼儿能够感受到英语学习的快乐。</text></g>
<g id="b4-g4" class="bl"><rect x="1773" y="2393" width="256" height="41" rx="5"/><text x="1780" y="2411">4、能够自信、愉快的用英文表达，乐意学习<tspan x="1780" dy="15.6">英文。</tspan></text></g>
<g id="b4-mp" class="bl"><rect x="1666" y="2528" width="84" height="26" rx="5"/><text x="1673" y="2546">【活动准备】</text></g>
<g id="b4-p1" class="bl"><rect x="1773" y="2462" width="256" height="43" rx="5"/><text x="1780" y="2480">1、布袋一只内装玩具狗、兔、鸭子，磁带、<tspan x="1780" dy="15.6">录音机。</tspan></text></g>
<g id="b4-p2" class="bl"><rect x="1773" y="2533" width="165" height="25" rx="5"/><text x="1780" y="2550">2、胸饰狗、兔、鸭子若干。</text></g>
<g id="b4-p3" class="bl"><rect x="1773" y="2587" width="221" height="25" rx="5"/><text x="1780" y="2604">3、幼儿已学过动词run、jump、swim</text></g>
<g id="b4-mc" class="bl"><rect x="1666" y="2956" width="84" height="26" rx="5"/><text x="1673" y="2974">【活动过程】</text></g>
<g id="b4-a1" class="bl"><rect x="1773" y="2640" width="218" height="26" rx="5"/><text x="1780" y="2658">一、Sing a song "Clap Your Hands"</text></g>
<g id="b4-a2" class="bl"><rect x="1773" y="2824" width="222" height="25" rx="5"/><text x="1780" y="2841">二、通过身体动作初步感知slowly、fast</text></g>
<g id="b4-a2a" class="bl"><rect x="2024" y="2694" width="256" height="74" rx="5"/><text x="2031" y="2712">1、T：Great!sit down please.Look at me(<tspan x="2031" dy="15.6">教师先慢后快拍手)Look again (边拍边说)slo</tspan><tspan x="2031" dy="15.6">wly slowly slowly , fast fast fast stop!follo</tspan><tspan x="2031" dy="15.6">w me.</tspan></text></g>
<g id="b4-a2b" class="bl"><rect x="2024" y="2795" width="256" height="57" rx="5"/><text x="2031" y="2813">2、T：Now,look at my hands. Touch shou<tspan x="2031" dy="15.6">lders(边说边做)slowly slowly slowly , fast f</tspan><tspan x="2031" dy="15.6">ast fast stop!follow me.(师生共同做)</tspan></text></g>
<g id="b4-a2c" class="bl"><rect x="2024" y="2880" width="256" height="121" rx="5"/><text x="2031" y="2898">3、T：Look at my hands(绕手臂)Can you?<tspan x="2031" dy="15.6">Lets do it together. , very good.Come her</tspan><tspan x="2031" dy="15.6">e, please.please do it for us.(在孩子做的同</tspan><tspan x="2031" dy="15.6">时教师在旁说) slowly slowly slowly,wonder</tspan><tspan x="2031" dy="15.6">ful! Look at me, fast fast fast(快速绕手臂)f</tspan><tspan x="2031" dy="15.6">ollow me. fast fast fast slowly slowly slowl</tspan><tspan x="2031" dy="15.6">y,very good!</tspan></text></g>
<g id="b4-a3" class="bl"><rect x="1773" y="3262" width="256" height="42" rx="5"/><text x="1780" y="3280">三、通过模仿各种动物动作，进一步感知slo<tspan x="1780" dy="15.6">wly、fast，鼓励幼儿跟说slowly、fast。</tspan></text></g>
<g id="b4-a3a" class="bl"><rect x="2052" y="3147" width="177" height="25" rx="5"/><text x="2059" y="3164">1、学习run slowly 、run fast</text></g>
<g id="b4-a3a1" class="bl"><rect x="2252" y="3029" width="254" height="89" rx="5"/><text x="2259" y="3047">T：Now,close your eyes slowly(拿出布袋)o<tspan x="2259" dy="15.6">pen your eyes fast. Look，I have a bag.Gu</tspan><tspan x="2259" dy="15.6">ess, whats in it?(让幼儿充分猜)Let me touc</tspan><tspan x="2259" dy="15.6">h it,(把手伸入布袋中)touch touch (拿出dog</tspan><tspan x="2259" dy="15.6">)whats this?</tspan></text></g>
<g id="b4-a3a2" class="bl"><rect x="2252" y="3147" width="58" height="25" rx="5"/><text x="2259" y="3164">C：Dog.</text></g>
<g id="b4-a3a3" class="bl"><rect x="2252" y="3200" width="254" height="89" rx="5"/><text x="2259" y="3218">T：It’  s a dog.dog dog run run run .stan<tspan x="2259" dy="15.6">d up,please . follow me .run run run .Sit d</tspan><tspan x="2259" dy="15.6">own please.Look at me,run slowly slowly</tspan><tspan x="2259" dy="15.6">slowly fast fast fast stop.Stand up follow</tspan><tspan x="2259" dy="15.6">me..say it after me .(鼓励幼儿跟说)</tspan></text></g>
<g id="b4-a3b" class="bl"><rect x="2052" y="3317" width="256" height="42" rx="5"/><text x="2059" y="3335">2、通过玩具兔学习jump slowly 、jump fas<tspan x="2059" dy="15.6">t (方法同上增加个别幼儿练习的机会)</tspan></text></g>
<g id="b4-a3c" class="bl"><rect x="2052" y="3387" width="256" height="42" rx="5"/><text x="2059" y="3405">3、通过玩具鸭子学习swim slowly、swim fa<tspan x="2059" dy="15.6">st (方法同上增加教师说幼儿做的练习)</tspan></text></g>
<g id="b4-me" class="bl"><rect x="1666" y="3480" width="84" height="27" rx="5"/><text x="1673" y="3498">【结束活动】</text></g>
<g id="b4-e1" class="bl"><rect x="1773" y="3456" width="256" height="74" rx="5"/><text x="1780" y="3474">T：Today you all did very well.Now Lets g<tspan x="1780" dy="15.6">o out and play with dog rabbit and duck.</tspan><tspan x="1780" dy="15.6">Stand up please follow me.(把玩具给个别</tspan><tspan x="1780" dy="15.6">幼儿抱好，师生共同听音乐离开活动室)</tspan></text></g>

<!-- Related -->
<g id="n6" class="pill pi"><rect x="1455" y="3797" width="255" height="36" rx="18"/><text x="1582" y="3821">英语教学课堂的设计相关文章:</text></g>
<g id="r1" class="in"><rect x="1736" y="3558" width="146" height="27" rx="5"/><text x="1743" y="3576">★小学英语教学方法设计</text></g>
<g id="r2" class="in"><rect x="1736" y="3612" width="207" height="27" rx="5"/><text x="1743" y="3630">★小学英语教案设计人教版【五篇】</text></g>
<g id="r3" class="in"><rect x="1736" y="3666" width="146" height="27" rx="5"/><text x="1743" y="3684">★小学英语教学设计方法</text></g>
<g id="r4" class="in"><rect x="1736" y="3720" width="146" height="27" rx="5"/><text x="1743" y="3738">★英语高效课堂教学方法</text></g>
<g id="r5" class="in"><rect x="1736" y="3774" width="232" height="27" rx="5"/><text x="1743" y="3792">★小学英语课堂导入的设计误区及其对策</text></g>
<g id="r6" class="in"><rect x="1736" y="3828" width="166" height="27" rx="5"/><text x="1743" y="3846">★小学英语课堂教学方法5篇</text></g>
<g id="r7" class="in"><rect x="1736" y="3882" width="232" height="27" rx="5"/><text x="1743" y="3900">★小学三年级上册英语课堂教学教案设计</text></g>
<g id="r8" class="in"><rect x="1736" y="3936" width="153" height="27" rx="5"/><text x="1743" y="3954">★六年级英语教案设计5篇</text></g>
<g id="r9" class="in"><rect x="1736" y="3990" width="171" height="27" rx="5"/><text x="1743" y="4008">★小学教师英语教案大全精选</text></g>
<g id="r10" class="in"><rect x="1736" y="4045" width="182" height="27" rx="5"/><text x="1743" y="4063">★初一英语公开课教案范文集锦</text></g>

<g id="watermarks">
<text class="wm" transform="translate(640 540) rotate(-32)" y="40">树图 shutu.cn</text>
<text class="wm" transform="translate(1910 540) rotate(-32)" y="40">树图 shutu.cn</text>
<text class="wm" transform="translate(640 1520) rotate(-32)" y="40">树图 shutu.cn</text>
<text class="wm" transform="translate(1910 1520) rotate(-32)" y="40">树图 shutu.cn</text>
<text class="wm" transform="translate(640 2520) rotate(-32)" y="40">树图 shutu.cn</text>
<text class="wm" transform="translate(1910 2520) rotate(-32)" y="40">树图 shutu.cn</text>
<text class="wm" transform="translate(640 3500) rotate(-32)" y="40">树图 shutu.cn</text>
<text class="wm" transform="translate(1910 3500) rotate(-32)" y="40">树图 shutu.cn</text>
<text class="wm" transform="translate(640 4480) rotate(-32)" y="40">树图 shutu.cn</text>
<text class="wm" transform="translate(1910 4480) rotate(-32)" y="40">树图 shutu.cn</text>
</g>
</g>
</svg>
